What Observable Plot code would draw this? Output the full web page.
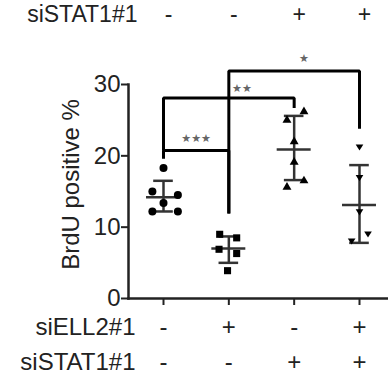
<!DOCTYPE html>
<html><head><meta charset="utf-8">
<script src="https://cdn.jsdelivr.net/npm/d3@7"></script>
<script src="https://cdn.jsdelivr.net/npm/@observablehq/plot@0.6"></script>
<style>body{margin:0;background:#fff}</style>
</head><body><div id="chart"></div>
<script>
// ---- data ----
const groups = [1, 2, 3, 4];
const siELL2 = ["-", "+", "-", "+"];
const siSTAT1 = ["-", "-", "+", "+"];
const siSTAT1Top = ["-", "-", "+", "+"];
const yTicks = [0, 10, 20, 30];

const valsCtrl = [18.3, 15.0, 14.5, 13.4, 12.2, 12.2];
const valsELL2 = [9.0, 8.5, 6.9, 6.3, 3.9];
const valsSTAT1 = [26.2, 25.0, 22.0, 19.1, 16.5, 15.6];
const valsBoth = [21.2, 16.9, 12.1, 9.0, 8.0];

const means = [14.2, 7.0, 20.9, 13.1];
const sdLow = [12.2, 5.0, 16.6, 7.8];
const sdHigh = [16.5, 8.7, 25.6, 18.7];

const sigLabels = ["★★★", "★★", "★"];
const sigBrackets = [
  [[1, 19.6], [1, 20.75], [2, 20.75], [2, 11.9]],
  [[1, 20.75], [1, 28.1], [3, 28.1], [3, 26.7]],
  [[2, 11.9], [2, 31.9], [4, 31.9], [4, 23.8]]
];
const sigPos = [[1.5, 22.4], [2.2, 29.5], [3.15, 33.7]];

// horizontal scatter of the points inside each column (layout)
const spreadCtrl = [0, -0.17, 0.22, 0, -0.17, 0.22];
const spreadELL2 = [-0.14, 0.12, -0.15, 0.12, -0.02];
const spreadSTAT1 = [0.15, -0.11, 0, 0, 0.15, -0.11];
const spreadBoth = [0, 0, 0, 0.13, -0.12];

const triDown = {
  draw(ctx, size) {
    const h = Math.sqrt(size);
    ctx.moveTo(0, h * 0.5);
    ctx.lineTo(-h * 0.6, -h * 0.45);
    ctx.lineTo(h * 0.6, -h * 0.45);
    ctx.closePath();
  }
};

const pts = (vals, spread, g) => vals.map((v, i) => ({x: g + spread[i], y: v}));

const FS = 24;
const ink = "#222";

const chart = Plot.plot({
  width: 388,
  height: 375,
  marginTop: 84,
  marginBottom: 77,
  marginLeft: 128,
  marginRight: 0,
  style: {fontFamily: "'Liberation Sans', Arial, sans-serif", fontSize: FS + "px", color: ink, background: "#fff"},
  x: {type: "linear", domain: [1, 4], range: [163, 359]},
  y: {domain: [0, 30], range: [298, 84]},
  marks: [
    Plot.axisY({ticks: yTicks, tickSize: 7, tickPadding: 1, fontSize: FS, label: null, strokeWidth: 2, stroke: ink}),
    Plot.axisX({ticks: groups, tickSize: 7, tickFormat: () => "", label: null, strokeWidth: 2, stroke: ink}),
    Plot.frame({anchor: "left", stroke: ink, strokeWidth: 2.5}),
    Plot.frame({anchor: "bottom", stroke: ink, strokeWidth: 2.5}),
    // error bars
    Plot.ruleX(groups, {x: d => d, y1: (d, i) => sdLow[i], y2: (d, i) => sdHigh[i], stroke: "#333", strokeWidth: 2.5}),
    Plot.ruleY(groups, {x1: d => d - 0.15, x2: d => d + 0.15, y: (d, i) => sdLow[i], stroke: "#333", strokeWidth: 2.5}),
    Plot.ruleY(groups, {x1: d => d - 0.15, x2: d => d + 0.15, y: (d, i) => sdHigh[i], stroke: "#333", strokeWidth: 2.5}),
    Plot.ruleY(groups, {x1: d => d - 0.26, x2: d => d + 0.26, y: (d, i) => means[i], stroke: "#333", strokeWidth: 2.5}),
    // points
    Plot.dot(pts(valsCtrl, spreadCtrl, 1), {x: "x", y: "y", symbol: "circle", r: 4, fill: "#000"}),
    Plot.dot(pts(valsELL2, spreadELL2, 2), {x: "x", y: "y", symbol: "square", r: 4, fill: "#000"}),
    Plot.dot(pts(valsSTAT1, spreadSTAT1, 3), {x: "x", y: "y", symbol: "triangle", r: 3.3, fill: "#000"}),
    Plot.dot(pts(valsBoth, spreadBoth, 4), {x: "x", y: "y", symbol: triDown, r: 3.6, fill: "#000"}),
    // significance brackets
    ...sigBrackets.map(b => Plot.line(b, {x: d => d[0], y: d => d[1], stroke: "#000", strokeWidth: 3, strokeLinejoin: "miter", strokeLinecap: "butt"})),
    Plot.text(sigPos, {x: d => d[0], y: d => d[1], text: (d, i) => sigLabels[i], fill: "#666", fontSize: 11, fontFamily: "'DejaVu Sans', sans-serif", lineAnchor: "middle"}),
    // y label
    Plot.text(["BrdU positive %"], {frameAnchor: "left", dx: -57, dy: -7, rotate: -90, textAnchor: "middle", fontSize: FS, fill: ink, lineAnchor: "middle"}),
    // condition rows
    Plot.text(["siELL2#1"], {frameAnchor: "bottom-left", dx: 7, dy: 29, textAnchor: "end", fontSize: FS, fill: ink, lineAnchor: "middle"}),
    Plot.text(groups, {x: d => d, text: (d, i) => siELL2[i], frameAnchor: "bottom", dy: 29, fontSize: FS, fill: ink, lineAnchor: "middle"}),
    Plot.text(["siSTAT1#1"], {frameAnchor: "bottom-left", dx: 7, dy: 64, textAnchor: "end", fontSize: FS, fill: ink, lineAnchor: "middle"}),
    Plot.text(groups, {x: d => d, text: (d, i) => siSTAT1[i], frameAnchor: "bottom", dy: 64, fontSize: FS, fill: ink, lineAnchor: "middle"}),
    // top row (from the panel above)
    Plot.text(["siSTAT1#1"], {frameAnchor: "top-left", dx: 9, dy: -70, textAnchor: "end", fontSize: 23, fill: ink, lineAnchor: "middle"}),
    Plot.text(groups, {x: d => d, text: (d, i) => siSTAT1Top[i], frameAnchor: "top", dx: 5, dy: -70, fontSize: 23, fill: ink, lineAnchor: "middle"})
  ]
});
document.getElementById("chart").appendChild(chart);
</script>
</body></html>
